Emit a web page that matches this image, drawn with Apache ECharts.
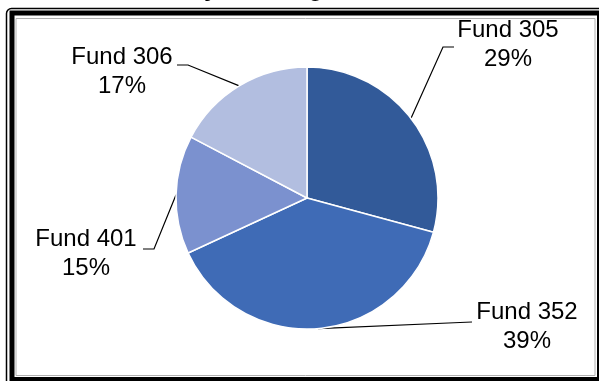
<!DOCTYPE html>
<html>
<head>
<meta charset="utf-8">
<style>
html,body{margin:0;padding:0;background:#fff;}
#chart{width:599px;height:381px;}
</style>
<script src="https://cdn.jsdelivr.net/npm/echarts@6/dist/echarts.min.js"></script>
</head>
<body>
<div id="chart"></div>
<script>
var categories = ['Fund 305', 'Fund 352', 'Fund 401', 'Fund 306'];
var values = [29.2, 38.9, 14.6, 17.3];
var colors = ['#325A99', '#3F6BB6', '#7B91CF', '#B2BEE0'];
var titleText = 'Allocation by Funding Source';

// label anchor (center) and leader line bend/end points per category
var labelPos = {
  'Fund 305': {x: 508, y: 45, bend: [443, 47], end: [454, 47]},
  'Fund 352': {x: 527, y: 327, bend: [460, 322.5], end: [472, 322]},
  'Fund 401': {x: 86, y: 254, bend: [154, 249], end: [143, 249]},
  'Fund 306': {x: 122, y: 72, bend: [188, 65], end: [177, 65]}
};

var chart = echarts.init(document.getElementById('chart'), null, {renderer: 'canvas'});
var FONT = '"Liberation Sans", Arial, sans-serif';

chart.setOption({
  animation: false,
  backgroundColor: '#fff',
  graphic: [
    {type: 'text', z: 10, style: {text: titleText, x: 238, y: -11, align: 'center', verticalAlign: 'middle', font: 'bold 25px ' + FONT, fill: '#000'}},
    {type: 'rect', shape: {x: 6.5, y: 8.5, width: 700, height: 500, r: 5}, style: {fill: 'none', stroke: '#000', lineWidth: 1.5}},
    {type: 'rect', shape: {x: 12, y: 13, width: 587.5, height: 366.5}, style: {fill: 'none', stroke: '#000', lineWidth: 5}},
    {type: 'rect', shape: {x: 16, y: 18.5, width: 579, height: 357}, style: {fill: 'none', stroke: '#b0b0b0', lineWidth: 1}}
  ],
  series: [{
    type: 'pie',
    center: [307, 198],
    radius: 131,
    startAngle: 90,
    clockwise: true,
    data: categories.map(function (c, i) {
      return {name: c, value: values[i], itemStyle: {color: colors[i]}};
    }),
    itemStyle: {borderColor: '#fff', borderWidth: 1.5},
    label: {
      show: true,
      position: 'outside',
      color: '#000',
      fontFamily: FONT,
      fontSize: 24,
      lineHeight: 29,
      align: 'center',
      formatter: function (p) { return p.name + '\n' + Math.round(p.percent) + '%'; }
    },
    labelLine: {show: true, length: 20, length2: 10, lineStyle: {color: '#000', width: 1.2}},
    labelLayout: function (params) {
      var name = categories[params.dataIndex];
      var lp = labelPos[name];
      var start = params.labelLinePoints ? params.labelLinePoints[0] : lp.bend;
      return {
        x: lp.x,
        y: lp.y,
        align: 'center',
        verticalAlign: 'middle',
        labelLinePoints: [start, lp.bend, lp.end]
      };
    },
    emphasis: {disabled: true}
  }]
});
</script>
</body>
</html>
